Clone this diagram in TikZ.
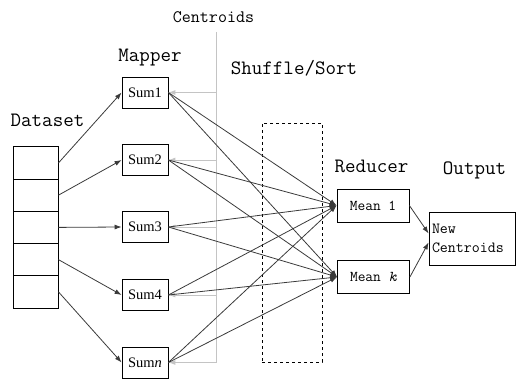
\documentclass[tikz,border=0pt]{standalone}
\usepackage{fontspec}
\setmainfont{Liberation Serif}
\usetikzlibrary{arrows.meta}
\definecolor{ln}{HTML}{3A3A3A}
\definecolor{cg}{HTML}{C4C4C4}
\tikzset{
  box/.style={draw=black,line width=0.8pt,minimum width=46pt,minimum height=31pt,inner sep=0pt,font=\fontsize{14.5}{16}\selectfont},
  mbox/.style={draw=black,line width=0.8pt,minimum width=72pt,minimum height=33pt,inner sep=0pt,font=\ttfamily\fontsize{15}{17}\selectfont},
  drow/.style={draw=black,line width=0.8pt,minimum width=45pt,minimum height=32.2pt,inner sep=0pt},
  lbl/.style={inner sep=0pt,font=\ttfamily\fontsize{20.4}{22}\selectfont},
  arr/.style={draw=ln,line width=0.8pt,-{Latex[length=7pt,width=5pt]}},
  garr/.style={draw=cg,line width=0.9pt,-{Latex[length=7pt,width=5pt]}}
}
\begin{document}
\begin{tikzpicture}[x=1pt,y=-1pt]
\useasboundingbox (0,0) rectangle (516,379);
% dataset
\node[drow] (d1) at (35.5,163) {};
\node[drow] (d2) at (35.5,195.2) {};
\node[drow] (d3) at (35.5,227.4) {};
\node[drow] (d4) at (35.5,259.6) {};
\node[drow] (d5) at (35.5,291.8) {};
% labels
\node[lbl] (ldata) at (47.5,120) {Dataset};
\node[lbl] (lmap) at (150,58) {Mapper};
\node[lbl,font=\ttfamily\fontsize{17.5}{19}\selectfont] (lcent) at (213.5,17) {Centroids};
\node[lbl] (lshuf) at (294,68) {Shuffle/Sort};
\node[lbl] (lred) at (371.5,166) {Reducer};
\node[lbl] (lout) at (474.5,170) {Output};
% mappers
\node[box] (s1) at (145,92.5) {Sum1};
\node[box] (s2) at (145,160) {Sum2};
\node[box] (s3) at (145,227) {Sum3};
\node[box] (s4) at (145,295) {Sum4};
\node[box] (s5) at (145,362.5) {Sum\textit{n}};
% shuffle box
\node[draw=black,dashed,line width=0.8pt,minimum width=60pt,minimum height=239pt,inner sep=0pt] (shuf) at (292,242.5) {};
% reducers
\node[mbox] (m1) at (373,205.5) {Mean 1};
\node[mbox] (mk) at (373.5,277) {Mean \textit{k}};
% output
\node[draw=black,line width=0.8pt,minimum width=86pt,minimum height=53pt,inner sep=3pt,align=left,font=\ttfamily\fontsize{15.5}{19}\selectfont,text width=80pt] (nc) at (472,238.5) {New\\Centroids};
% centroid line
\coordinate (ctop) at (216,32);
\coordinate (cbot) at (216,362.5);
\draw[cg,line width=0.9pt] (ctop) -- (cbot);
\foreach \s in {s1,s2,s3,s4,s5}{
  \draw[garr] (\s.east -| ctop) -- (\s.east);
}
% dataset to mappers
\draw[arr] (d1.east) -- (s1.west);
\draw[arr] (d2.east) -- (s2.west);
\draw[arr] (d3.east) -- (s3.west);
\draw[arr] (d4.east) -- (s4.west);
\draw[arr] (d5.east) -- (s5.west);
% mappers to reducers
\foreach \s in {s1,s2,s3,s4,s5}{
  \draw[arr] (\s.east) -- (m1.west);
  \draw[arr] (\s.east) -- (mk.west);
}
% reducers to output
\draw[arr] (m1.east) -- ([yshift=5pt]nc.west);
\draw[arr] (mk.east) -- ([yshift=-4pt]nc.west);
\end{tikzpicture}
\end{document}
